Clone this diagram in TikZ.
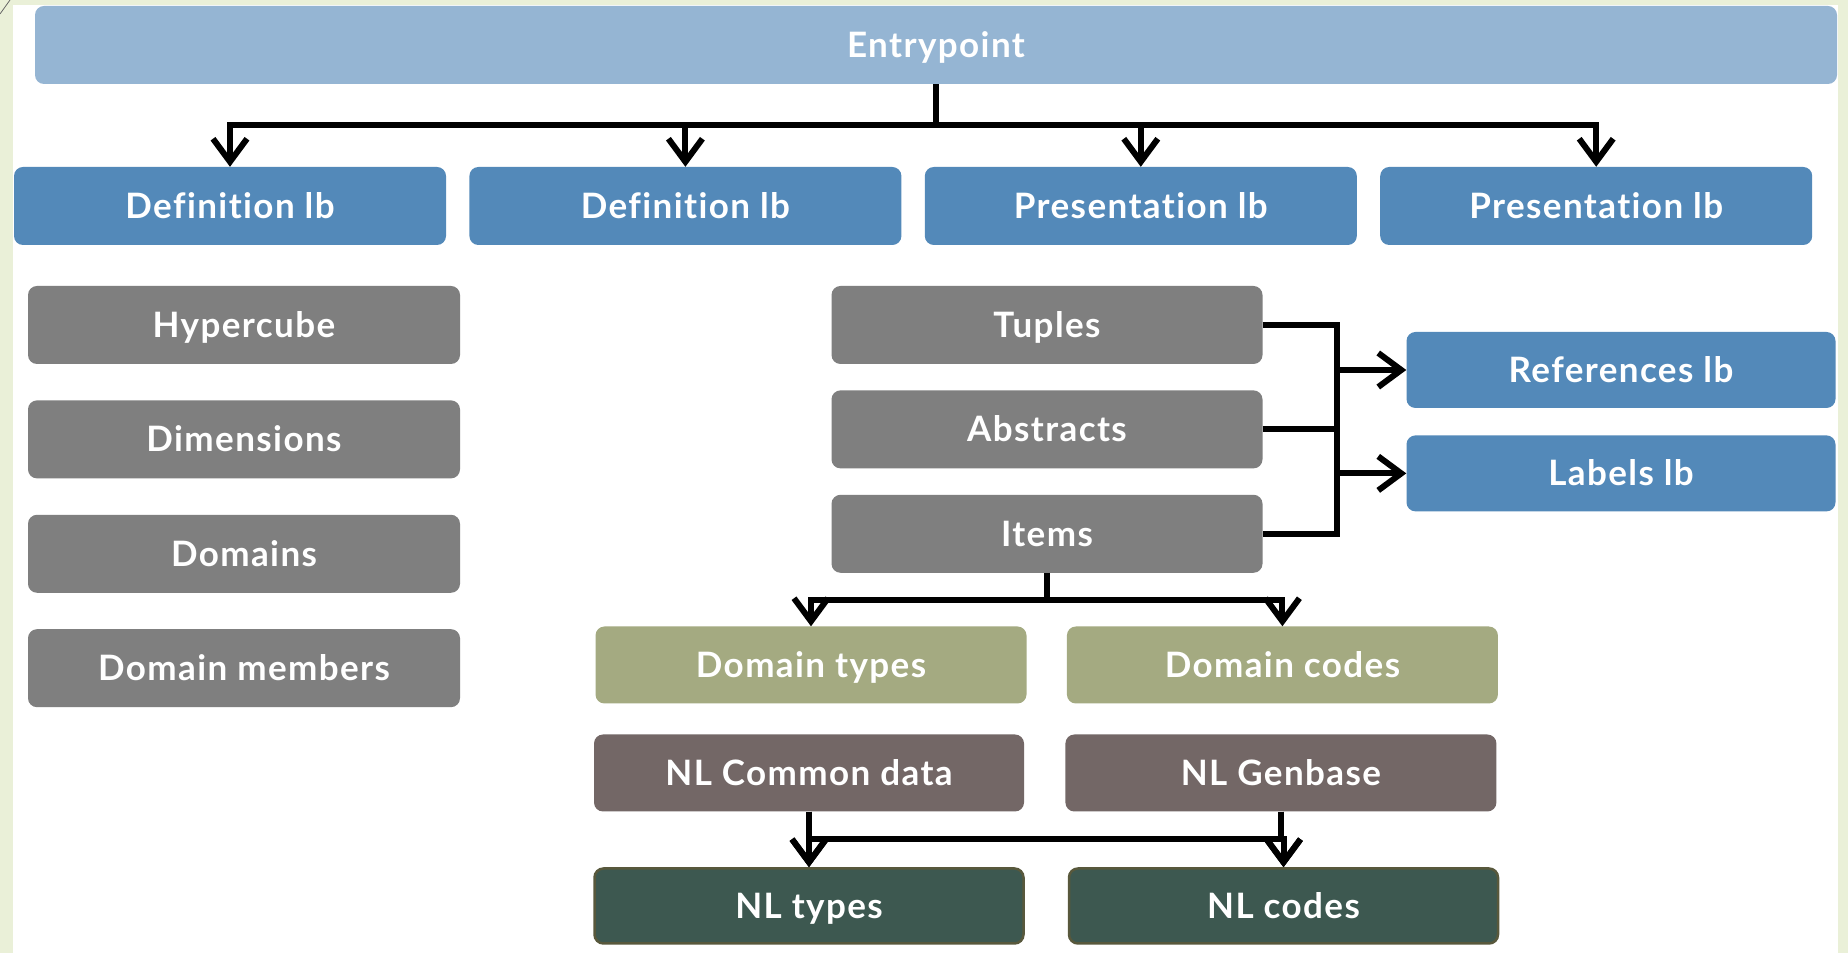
\documentclass[tikz,border=0pt]{standalone}
\usepackage{fontspec}
\setmainfont{Lato}[LetterSpace=4.0, Ligatures=NoCommon]
\usetikzlibrary{positioning,arrows.meta}
\definecolor{bgout}{RGB}{234,240,216}
\definecolor{entryc}{RGB}{149,181,211}
\definecolor{lbc}{RGB}{83,137,185}
\definecolor{greyc}{RGB}{127,127,127}
\definecolor{olivec}{RGB}{164,170,129}
\definecolor{brownc}{RGB}{115,103,102}
\definecolor{tealc}{RGB}{61,88,80}
\definecolor{tealb}{RGB}{88,88,60}
\begin{document}
\begin{tikzpicture}[x=1pt, y=1pt,
    box/.style={rectangle, rounded corners=9pt, text=white, inner sep=0pt,
        minimum width=432pt, minimum height=78pt, text height=25pt, text depth=0pt,
        font=\bfseries\fontsize{35}{40}\selectfont},
    lb/.style={box, fill=lbc},
    grey/.style={box, fill=greyc},
    olive/.style={box, fill=olivec, minimum height=77pt},
    brown/.style={box, fill=brownc, minimum height=77pt},
    nl/.style={box, fill=tealc, draw=tealb, line width=2.5pt, minimum height=75pt},
    line/.style={draw=black, line width=6pt},
    arr/.style={line, -{Straight Barb[length=23pt, width=34pt]}}]
    \useasboundingbox (0,0) rectangle (1848,953);
    \fill[bgout] (0,0) rectangle (1848,953);
    \fill[white] (13,0) rectangle (1838,948);
    \draw[black!60, line width=0.8pt] (0,939) -- (10,953);

    % top row
    \node[box, fill=entryc, minimum width=1802pt](entry) at (936,908){Entrypoint};
    \node[lb](def1) at (230,747){Definition lb};
    \node[lb, right=23pt of def1](def2){Definition lb};
    \node[lb, right=23pt of def2](pres1){Presentation lb};
    \node[lb, right=23pt of pres1](pres2){Presentation lb};

    % left column
    \node[grey](hyper) at (244,628){Hypercube};
    \node[grey, below=36pt of hyper](dims){Dimensions};
    \node[grey, below=36pt of dims](doms){Domains};
    \node[grey, below=36pt of doms](members){Domain members};

    % middle column
    \node[grey, minimum width=431pt](tuples) at (1047,628){Tuples};
    \node[grey, minimum width=431pt, below=26pt of tuples](abstracts){Abstracts};
    \node[grey, minimum width=431pt, below=26pt of abstracts](items){Items};
    \node[lb, minimum width=429pt, minimum height=76pt](refs) at (1621,583){References lb};
    \node[lb, minimum width=429pt, minimum height=76pt, below=27pt of refs](labels){Labels lb};
    \coordinate(bus) at (1337,0);

    % bottom part
    \node[olive, minimum width=431pt](dtypes) at (811,288){Domain types};
    \node[olive, minimum width=431pt, right=40pt of dtypes](dcodes){Domain codes};
    \node[brown, minimum width=430pt](common) at (809,180){NL Common data};
    \node[brown, minimum width=431pt, right=41pt of common](genbase){NL Genbase};
    \node[nl, minimum width=429pt](nltypes) at (809,47){NL types};
    \node[nl, minimum width=429pt, right=43pt of nltypes](nlcodes){NL codes};

    \foreach \n in {def1, def2, pres1, pres2}
        \draw[arr] (entry.south) -- ++(0,-41) -| (\n.north);

    \draw[line] (tuples.east) -- (tuples.east -| bus) -- (items.east -| bus) -- (items.east);
    \draw[line] (abstracts.east) -- (abstracts.east -| bus);
    \draw[arr] (refs.west -| bus) -- (refs.west);
    \draw[arr] (labels.west -| bus) -- (labels.west);

    \draw[arr] (items.south) -- ++(0,-27) -| (dtypes.north);
    \draw[arr] (items.south) -- ++(0,-27) -| (dcodes.north);

    \draw[arr] (common.south) -- ++(0,-27) -| (nltypes.north);
    \draw[arr] (common.south) -- ++(0,-27) -| (nlcodes.north);
    \draw[arr] (genbase.south) -- ++(0,-27) -| (nlcodes.north);
    \draw[arr] (genbase.south) -- ++(0,-27) -| (nltypes.north);
\end{tikzpicture}
\end{document}
